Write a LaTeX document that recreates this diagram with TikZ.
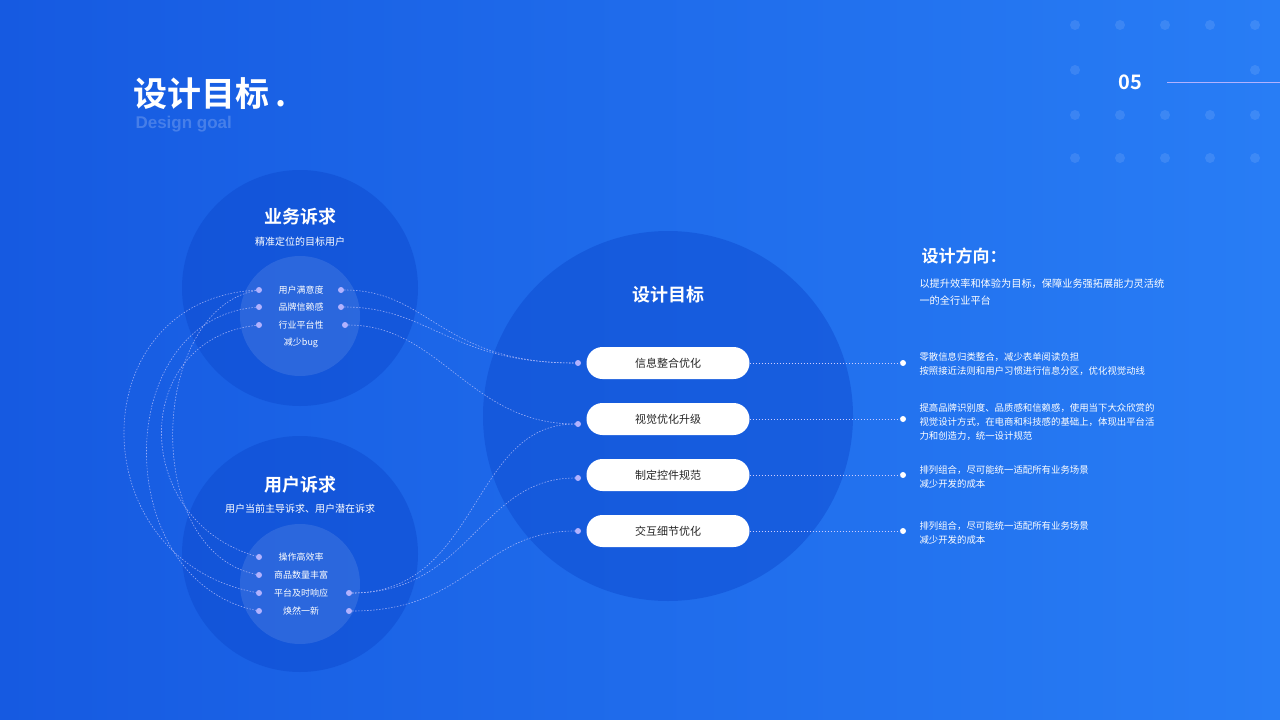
\documentclass[tikz,border=0pt]{standalone}
\usepackage{fontspec}
\setmainfont{Noto Sans CJK SC}
\newfontfamily\cjkb{Noto Sans CJK SC Bold}
\newfontfamily\latb{Liberation Sans}
\definecolor{circ}{RGB}{12,72,205}
\begin{document}
\begin{tikzpicture}[x=1pt,y=-1pt,
  dl/.style={draw=white!80!blue,opacity=0.7,dashed,dash pattern=on 1.5pt off 1.5pt,line width=0.6pt},
  dt/.style={circle,fill=white!70!blue,inner sep=0,minimum size=6pt},
  wdt/.style={circle,fill=white,inner sep=0,minimum size=6pt},
  pill/.style={rounded corners=16pt,fill=white,minimum width=163pt,minimum height=32pt,font=\fontsize{11}{11}\selectfont,text=black!85},
  item/.style={text=white,font=\fontsize{9}{9}\selectfont},
  desc/.style={text=white,font=\fontsize{9.4}{14}\selectfont,align=left,anchor=west}]
\useasboundingbox (0,0) rectangle (1280,720);
\shade[left color={rgb,255:red,22;green,90;blue,225},right color={rgb,255:red,40;green,125;blue,245}] (0,0) rectangle (1280,720);
% dots grid
\foreach \x in {1075,1120,1165,1210,1255} \foreach \y in {25,115,158} \fill[white,opacity=0.1] (\x,\y) circle (5);
\foreach \x in {1075,1255} \fill[white,opacity=0.1] (\x,70) circle (5);
\node[text=white,font=\cjkb\fontsize{20}{20}\selectfont] (num) at (1130,82) {05};
\coordinate (ls) at (1167,82); \coordinate (le) at (1280,82);
\draw[white!70!blue,line width=0.8pt] (ls) -- (le);
% title
\node[text=white,anchor=west,font=\cjkb\fontsize{34}{34}\selectfont] (title) at (130,94) {设计目标\hspace{6pt}.};
\node[text=white,opacity=0.2,anchor=west,font=\latb\bfseries\fontsize{17}{17}\selectfont] (sub) at (132,124) {Design goal};
% circles
\fill[circ,opacity=0.45] (300,288) circle (118);
\fill[white,opacity=0.1] (300,316) circle (60);
\fill[circ,opacity=0.45] (300,554) circle (118);
\fill[white,opacity=0.1] (300,584) circle (60);
\fill[circ,opacity=0.45] (668,416) circle (185);
\node[text=white,font=\cjkb\fontsize{18}{18}\selectfont] (t1) at (300,217) {业务诉求};
\node[text=white,font=\fontsize{10}{10}\selectfont] (s1) at (300,242) {精准定位的目标用户};
\node[text=white,font=\cjkb\fontsize{18}{18}\selectfont] (t2) at (300,485) {用户诉求};
\node[text=white,font=\fontsize{10}{10}\selectfont] (s2) at (300,509) {用户当前主导诉求、用户潜在诉求};
\node[text=white,font=\cjkb\fontsize{18}{18}\selectfont] (t3) at (668,295) {设计目标};
% items
\node[item] at (301,290) {用户满意度};
\node[item] at (301,307) {品牌信赖感};
\node[item] at (301,325) {行业平台性};
\node[item] at (301,343) {减少bug};
\node[item] at (301,557) {操作高效率};
\node[item] at (301,575) {商品数量丰富};
\node[item] at (301,593) {平台及时响应};
\node[item] at (301,611) {焕然一新};
\foreach \n/\x/\y in {a1/259/290,a2/259/307,a3/259/325,b1/341/290,b2/341/307,b3/345/325,
 c1/259/557,c2/259/575,c3/259/593,c4/259/611,d3/349/593,d4/349/611,
 p1/578/363,p2/578/424,p3/578/478,p4/578/531}
  \node[dt] (\n) at (\x,\y) {};
% pills
\foreach \i/\y/\t in {1/363/信息整合优化,2/419/视觉优化升级,3/475/制定控件规范,4/531/交互细节优化}{
  \node[pill] (q\i) at (668,\y) {\t};
  \node[wdt] (r\i) at (903,\y) {};
  \draw[dl,opacity=1] (q\i.east) -- (r\i);
}
\node[desc] at (916,364) {零散信息归类整合，减少表单阅读负担\\按照接近法则和用户习惯进行信息分区，优化视觉动线};
\node[desc] at (916,422) {提高品牌识别度、品质感和信赖感，使用当下大众欣赏的\\视觉设计方式，在电商和科技感的基础上，体现出平台活\\力和创造力，统一设计规范};
\node[desc] at (916,477) {排列组合，尽可能统一适配所有业务场景\\减少开发的成本};
\node[desc] at (916,533) {排列组合，尽可能统一适配所有业务场景\\减少开发的成本};
% right side heading
\node[text=white,anchor=west,font=\cjkb\fontsize{17}{17}\selectfont] (h) at (918,256) {设计方向：};
\node[desc,font=\fontsize{10.2}{17}\selectfont] at (916,292) {以提升效率和体验为目标，保障业务强拓展能力灵活统\\一的全行业平台};
% connectors
\draw[dl] (b1) .. controls (430,290) and (440,363) .. (p1);
\draw[dl] (b2) .. controls (430,307) and (450,363) .. (p1);
\draw[dl] (b3) .. controls (440,325) and (470,424) .. (p2);
\draw[dl] (d3) .. controls (480,593) and (470,424) .. (p2);
\draw[dl] (d3) .. controls (470,593) and (480,478) .. (p3);
\draw[dl] (d4) .. controls (470,611) and (480,531) .. (p4);
\draw[dl] (a1) .. controls (80,300) and (80,560) .. (c3);
\draw[dl] (a2) .. controls (110,320) and (110,580) .. (c4);
\draw[dl] (a3) .. controls (130,340) and (130,520) .. (c1);
\draw[dl] (a1) .. controls (150,310) and (140,550) .. (c2);
\end{tikzpicture}
\end{document}
